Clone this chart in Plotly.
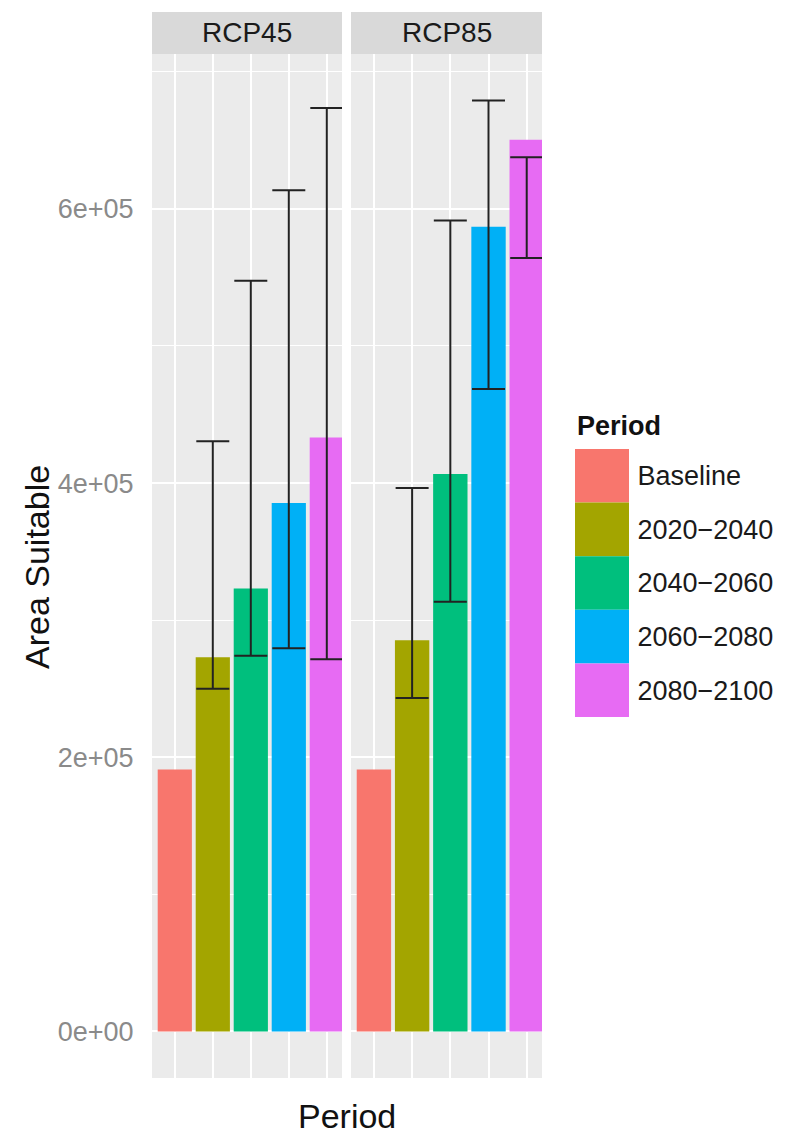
import plotly.graph_objects as go

# ---------------- data ----------------
periods = ["Baseline", "2020\u22122040", "2040\u22122060", "2060\u22122080", "2080\u22122100"]
scenarios = ["RCP45", "RCP85"]
colors = ["#F8766D", "#A3A500", "#00BF7D", "#00B0F6", "#E76BF3"]

rcp45_area = [191000, 273000, 323000, 385500, 433300]
rcp45_lower = [None, 250000, 274000, 279500, 271500]
rcp45_upper = [None, 430500, 547500, 613500, 673500]

rcp85_area = [191000, 285300, 406600, 587000, 650400]
rcp85_lower = [None, 243300, 313500, 468600, 564100]
rcp85_upper = [None, 396400, 591500, 679000, 637700]

y_tickvals = [0, 200000, 400000, 600000]
y_ticktext = ["0e+00", "2e+05", "4e+05", "6e+05"]

FONT = "Liberation Sans, Arial, Helvetica, sans-serif"

series = {
    "RCP45": (rcp45_area, rcp45_lower, rcp45_upper),
    "RCP85": (rcp85_area, rcp85_lower, rcp85_upper),
}

# page body has an 8px margin: the figure is placed at (8, 8) in the window
OFF = 8
W, H = 785 - OFF, 1134 - OFF


def px(xp):
    return (xp - OFF) / W


def py(yp):
    return 1 - (yp - OFF) / H


fig = go.Figure()

all_vals = [v for s in series.values() for arr in s for v in arr if v is not None]
ymax = max(all_vals)
pad = 0.05 * ymax
yrange = [-pad, ymax + pad]

for i, sc in enumerate(scenarios, start=1):
    area, lower, upper = series[sc]
    xa = "x" if i == 1 else f"x{i}"
    ya = "y" if i == 1 else f"y{i}"
    fig.add_trace(go.Bar(
        x=periods, y=area, width=0.9,
        marker=dict(color=colors, line=dict(width=0)),
        xaxis=xa, yaxis=ya, showlegend=False, name=sc,
    ))
    mids = [None if lo is None else (lo + hi) / 2 for lo, hi in zip(lower, upper)]
    half = [0 if lo is None else (hi - lo) / 2 for lo, hi in zip(lower, upper)]
    fig.add_trace(go.Scatter(
        x=periods, y=mids, mode="markers",
        marker=dict(opacity=0, size=1),
        error_y=dict(type="data", array=half, symmetric=True,
                     color="#222222", thickness=2, width=16.5),
        xaxis=xa, yaxis=ya, showlegend=False, hoverinfo="skip",
    ))

# legend blocks drawn as a stacked bar on its own axis
n = len(periods)
fig.add_trace(go.Bar(
    x=["key"] * n, y=[1] * n, base=[n - 1 - k for k in range(n)], width=1,
    marker=dict(color=colors, line=dict(width=0)),
    xaxis="x3", yaxis="y3", showlegend=False, hoverinfo="skip",
))

panel_top, panel_bot = 54, 1078
ydom = [py(panel_bot), py(panel_top)]
xdoms = [[px(152), px(342)], [px(351), px(542)]]

common_x = dict(showticklabels=False, ticks="", showgrid=True, gridcolor="white",
                gridwidth=2.2, zeroline=False, showline=False,
                categoryorder="array", categoryarray=periods, range=[-0.6, 4.4],
                fixedrange=True)
common_y = dict(range=yrange, showgrid=True, gridcolor="white", gridwidth=2.2,
                zeroline=False, showline=False, tickvals=y_tickvals,
                minor=dict(dtick=100000, tick0=0, showgrid=True, gridcolor="white",
                           gridwidth=1.1),
                domain=ydom)

fig.update_layout(
    width=W, height=H,
    margin=dict(l=0, r=0, t=0, b=0),
    paper_bgcolor="white", plot_bgcolor="#EBEBEB",
    barmode="overlay",
    font=dict(family=FONT, color="#1a1a1a"),
    xaxis=dict(domain=xdoms[0], anchor="y", **common_x),
    xaxis2=dict(domain=xdoms[1], anchor="y2", **common_x),
    yaxis=dict(anchor="x", ticktext=y_ticktext, ticks="outside", ticklen=12,
               tickcolor="rgba(0,0,0,0)",
               tickfont=dict(size=27, color="#8a8a8a", family=FONT), **common_y),
    yaxis2=dict(anchor="x2", showticklabels=False, ticks="", **common_y),
    xaxis3=dict(domain=[px(575), px(629)], anchor="y3", showticklabels=False,
                showgrid=False, zeroline=False, range=[-0.5, 0.5], fixedrange=True),
    yaxis3=dict(domain=[py(717), py(449)], anchor="x3", side="right",
                range=[0, n], showgrid=False, zeroline=False,
                tickvals=[n - 0.5 - k for k in range(n)], ticktext=periods,
                ticks="outside", ticklen=2, tickcolor="rgba(0,0,0,0)",
                tickfont=dict(size=27, color="#1a1a1a", family=FONT)),
)

# legend axis background white
fig.add_shape(type="rect", xref="x3 domain", yref="y3 domain", x0=0, x1=1, y0=0, y1=1,
              fillcolor="white", line=dict(width=0), layer="below")

# facet strips
strip_h = 42 / (panel_bot - panel_top)
for i, sc in enumerate(scenarios, start=1):
    xr = "x domain" if i == 1 else f"x{i} domain"
    yr = "y domain" if i == 1 else f"y{i} domain"
    fig.add_shape(type="rect", xref=xr, yref=yr, x0=0, x1=1, y0=1, y1=1 + strip_h,
                  fillcolor="#D9D9D9", line=dict(width=0))
    fig.add_annotation(xref=xr, yref=yr, x=0.5, y=1 + strip_h / 2, text=sc,
                       showarrow=False, xanchor="center", yanchor="middle",
                       font=dict(size=28, color="#1a1a1a", family=FONT))

# axis titles
fig.add_annotation(xref="paper", yref="paper", x=px(37), y=py(567),
                   text="Area Suitable", textangle=-90, showarrow=False,
                   xanchor="center", yanchor="middle",
                   font=dict(size=34, color="#111111", family=FONT))
fig.add_annotation(xref="paper", yref="paper", x=px(347), y=py(1116),
                   text="Period", showarrow=False, xanchor="center", yanchor="middle",
                   font=dict(size=34, color="#111111", family=FONT))
# legend title
fig.add_annotation(xref="x3 domain", yref="y3 domain", x=0, y=1, yshift=6,
                   text="<b>Period</b>", showarrow=False, xanchor="left",
                   yanchor="bottom", font=dict(size=27, color="#111111", family=FONT))

fig.write_html("out.html")
